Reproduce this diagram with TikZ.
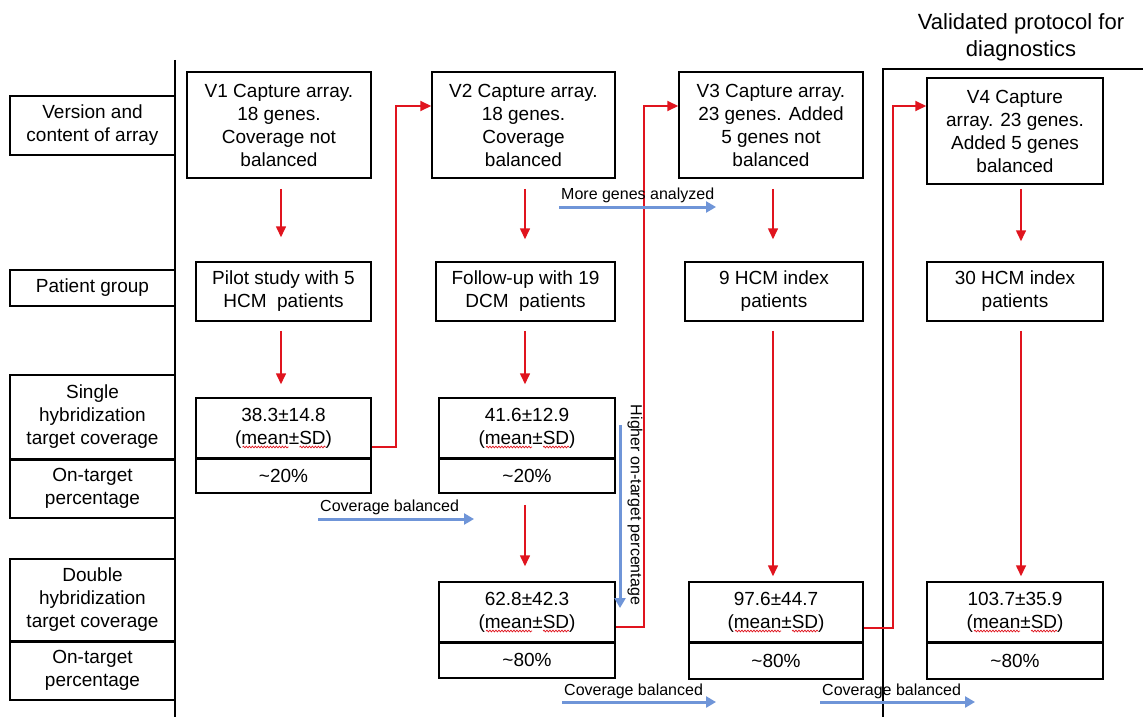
\documentclass[tikz,border=0pt]{standalone}
\usepackage{fontspec}
\setmainfont{Liberation Sans}
\usetikzlibrary{arrows.meta,decorations.pathmorphing}
\definecolor{arrred}{HTML}{E0141E}
\definecolor{arrblue}{HTML}{6F95D8}
\begin{document}
\begin{tikzpicture}[x=1pt,y=-1pt,
  box/.style={draw, line width=1.5pt, align=center, inner sep=0pt, font=\fontsize{19}{23}\selectfont},
  divider/.style={line width=3pt},
  redarrow/.style={draw=arrred, line width=1.6pt, -{Triangle[width=10pt,length=11pt]}},
  redline/.style={draw=arrred, line width=2pt, -{Triangle[width=10pt,length=11pt]}},
  bluearrow/.style={draw=arrblue, line width=3pt, -{Triangle[width=11pt,length=10pt]}},
  squig/.style={draw=arrred, line width=0.7pt, decorate, decoration={snake, amplitude=0.9pt, segment length=3pt}},
  small/.style={font=\fontsize{16}{19}\selectfont, inner sep=0pt}]
\useasboundingbox[fill=white] (0,0) rectangle (1143,717);

% left axis and frame
\draw[line width=1.5pt] (175,60) -- (175,717);
\draw[line width=1.3pt] (883,717) -- (883,69) -- (1143,69);
\node[font=\fontsize{22}{27}\selectfont, align=center] (title) at (1021,37) {Validated protocol for\\diagnostics};

% left labels
\node[box, minimum width=165pt, minimum height=59pt] (lab1) at (92.5,125.5) {Version and\\content of array};
\node[box, minimum width=165pt, minimum height=36pt] (lab2) at (92.5,288) {Patient group};
\node[box, minimum width=165pt, minimum height=84pt] (lab3) at (92.5,417) {Single\\hybridization\\target coverage};
\node[box, minimum width=165pt, minimum height=59pt] (lab4) at (92.5,488.5) {On-target\\percentage};
\draw[divider] (lab3.south west) -- (lab3.south east);
\node[box, minimum width=165pt, minimum height=82pt] (lab5) at (92.5,600) {Double\\hybridization\\target coverage};
\node[box, minimum width=165pt, minimum height=59pt] (lab6) at (92.5,670.5) {On-target\\percentage};
\draw[divider] (lab5.south west) -- (lab5.south east);

% array versions
\node[box, minimum width=184pt, minimum height=106pt] (v1) at (279,125) {V1 Capture array.\\18 genes.\\Coverage not\\balanced};
\node[box, minimum width=183pt, minimum height=106pt] (v2) at (523.5,125) {V2 Capture array.\\18 genes.\\Coverage\\balanced};
\node[box, minimum width=184pt, minimum height=106pt] (v3) at (771,125) {V3 Capture array.\\23 genes. Added\\5 genes not\\balanced};
\node[box, minimum width=176pt, minimum height=106pt] (v4) at (1015,131) {V4 Capture\\array. 23 genes.\\Added 5 genes\\balanced};

% patient groups
\node[box, minimum width=175pt, minimum height=59pt] (p1) at (283.5,291.5) {Pilot study with 5\\HCM\ \ patients};
\node[box, minimum width=179pt, minimum height=59pt] (p2) at (525.5,291.5) {Follow-up with 19\\DCM\ \ patients};
\node[box, minimum width=178pt, minimum height=59pt] (p3) at (774,291.5) {9 HCM index\\patients};
\node[box, minimum width=176pt, minimum height=59pt] (p4) at (1015,291.5) {30 HCM index\\patients};

% single hybridization
\node[box, minimum width=175pt, minimum height=60pt] (s1t) at (283.5,428) {38.3±14.8\\(mean±SD)};
\node[box, minimum width=175pt, minimum height=35pt] (s1b) at (283.5,475.5) {\textasciitilde20\%};
\draw[divider] (s1t.south west) -- (s1t.south east);
\node[box, minimum width=176pt, minimum height=60pt] (s2t) at (527,428) {41.6±12.9\\(mean±SD)};
\node[box, minimum width=176pt, minimum height=35pt] (s2b) at (527,475.5) {\textasciitilde20\%};
\draw[divider] (s2t.south west) -- (s2t.south east);

% double hybridization
\node[box, minimum width=176pt, minimum height=60pt] (d2t) at (527,612) {62.8±42.3\\(mean±SD)};
\node[box, minimum width=176pt, minimum height=36pt] (d2b) at (527,660) {\textasciitilde80\%};
\draw[divider] (d2t.south west) -- (d2t.south east);
\node[box, minimum width=174pt, minimum height=60pt] (d3t) at (776,612) {97.6±44.7\\(mean±SD)};
\node[box, minimum width=174pt, minimum height=37pt] (d3b) at (776,660.5) {\textasciitilde80\%};
\draw[divider] (d3t.south west) -- (d3t.south east);
\node[box, minimum width=176pt, minimum height=60pt] (d4t) at (1015,612) {103.7±35.9\\(mean±SD)};
\node[box, minimum width=176pt, minimum height=37pt] (d4b) at (1015,660.5) {\textasciitilde80\%};
\draw[divider] (d4t.south west) -- (d4t.south east);

% spell-check underlines under (mean±SD)
\foreach \n in {s1t,s2t,d2t,d3t,d4t}{
  \draw[squig] ([shift={(-41,19)}]\n.center) -- ++(46,0);
  \draw[squig] ([shift={(16,19)}]\n.center) -- ++(26,0);
}

% red vertical arrows
\draw[redarrow, shorten <=10pt, shorten >=24pt] ([xshift=2pt]v1.south) -- ([xshift=2pt]v1.south |- p1.north);
\draw[redarrow, shorten <=9pt, shorten >=13pt] ([xshift=-2.5pt]p1.south) -- ([xshift=-2.5pt]p1.south |- s1t.north);
\draw[redarrow, shorten <=10pt, shorten >=22pt] ([xshift=1.5pt]v2.south) -- ([xshift=1.5pt]v2.south |- p2.north);
\draw[redarrow, shorten <=9pt, shorten >=13pt] ([xshift=-0.5pt]p2.south) -- ([xshift=-0.5pt]p2.south |- s2t.north);
\draw[redarrow, shorten <=11pt, shorten >=15pt] ([xshift=-2pt]s2b.south) -- ([xshift=-2pt]s2b.south |- d2t.north);
\draw[redarrow, shorten <=10pt, shorten >=22pt] ([xshift=2pt]v3.south) -- ([xshift=2pt]v3.south |- p3.north);
\draw[redarrow, shorten <=9pt, shorten >=5pt] ([xshift=-1pt]p3.south) -- ([xshift=-1pt]p3.south |- d3t.north);
\draw[redarrow, shorten <=4pt, shorten >=20pt] ([xshift=6pt]v4.south) -- ([xshift=6pt]v4.south |- p4.north);
\draw[redarrow, shorten <=9pt, shorten >=5pt] ([xshift=6pt]p4.south) -- ([xshift=6pt]p4.south |- d4t.north);

% red elbow connectors
\draw[redline] ([yshift=12pt]s1t.south east) -- ++(24,0) |- ([yshift=19pt]v2.west);
\draw[redline] ([yshift=16pt]d2t.south east) -- ++(28,0) |- ([yshift=19pt]v3.west);
\draw[redline] ([yshift=15pt]d3t.south east) -- ++(29,0) |- ([yshift=25pt]v4.west);

% blue arrows with labels
\coordinate (mgA) at (559,207); \coordinate (mgB) at (716,207);
\draw[bluearrow] (mgA) -- (mgB);
\node[small, anchor=west] (mgl) at (561,195) {More genes analyzed};

\coordinate (cbA) at (318,519); \coordinate (cbB) at (474,519);
\draw[bluearrow] (cbA) -- (cbB);
\node[small, anchor=west] (cbl) at (320,507) {Coverage balanced};

\coordinate (hoA) at (620,425); \coordinate (hoB) at (620,608);
\draw[bluearrow] (hoA) -- (hoB);
\node[small, rotate=-90] (hol) at (635,505) {Higher on-target percentage};

\coordinate (cb2A) at (562,702); \coordinate (cb2B) at (716,702);
\draw[bluearrow] (cb2A) -- (cb2B);
\node[small, anchor=west] (cb2l) at (564,691) {Coverage balanced};

\coordinate (cb3A) at (820,702); \coordinate (cb3B) at (975,702);
\draw[bluearrow] (cb3A) -- (cb3B);
\node[small, anchor=west] (cb3l) at (822,691) {Coverage balanced};
\end{tikzpicture}
\end{document}
